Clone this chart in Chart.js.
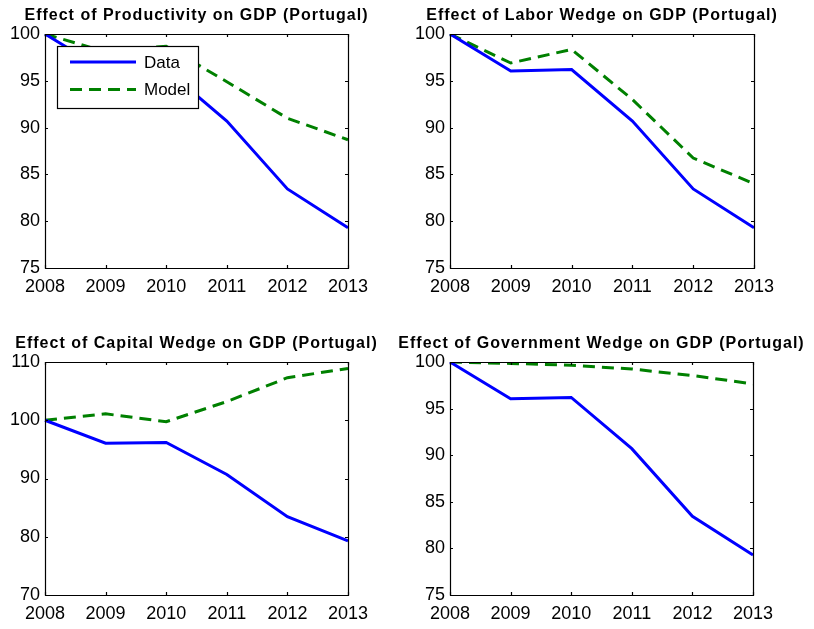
<!DOCTYPE html>
<html><head><meta charset="utf-8">
<script src="https://cdn.jsdelivr.net/npm/chart.js@4"></script>
<style>
html,body{margin:0;padding:0;background:#fff;}
#wrap{position:relative;width:814px;height:629px;background:#fff;}
canvas{position:absolute;left:0;top:0;}
</style></head><body><div id="wrap">
<canvas id="c0" width="814" height="629"></canvas>
<canvas id="c1" width="814" height="629"></canvas>
<canvas id="c2" width="814" height="629"></canvas>
<canvas id="c3" width="814" height="629"></canvas>
</div>
<script>
// ---- data ----
const years = ['2008','2009','2010','2011','2012','2013'];
const dataGDP = [100, 96.05, 96.2, 90.7, 83.45, 79.3];
const modelProductivity = [100, 98.1, 98.7, 94.9, 91.0, 88.7];
const modelLabor = [100, 96.9, 98.35, 93.0, 86.75, 84.0];
const modelCapital = [100, 101.1, 99.75, 103.2, 107.3, 108.9];
const modelGovernment = [100, 99.85, 99.65, 99.25, 98.55, 97.65];
const titles = [
  'Effect of Productivity on GDP (Portugal)',
  'Effect of Labor Wedge on GDP (Portugal)',
  'Effect of Capital Wedge on GDP (Portugal)',
  'Effect of Government Wedge on GDP (Portugal)'
];
const models = [modelProductivity, modelLabor, modelCapital, modelGovernment];
const yMin = [75, 75, 70, 75];
const yMax = [100, 100, 110, 100];
const yStep = [5, 5, 10, 5];
const seriesNames = ['Data', 'Model'];

// ---- layout ----
const areas = [[45,34,348,268],[450,34,754,268],[45,362,348,595],[450,362,753,595]];
const W = 814, H = 629, YW = 40, XH = 30;
const FONT = '"Liberation Sans", Arial, Helvetica, sans-serif';

const boxPlugin = {
  id: 'boxPlugin',
  afterDraw(chart, args, opts) {
    const ctx = chart.ctx;
    const {left, right, top, bottom} = chart.chartArea;
    const x = chart.scales.x, y = chart.scales.y;
    ctx.save();
    ctx.strokeStyle = '#000';
    ctx.lineWidth = 1.2;
    ctx.setLineDash([]);
    ctx.beginPath();
    ctx.rect(left + 0.5, top + 0.5, right - left, bottom - top);
    ctx.stroke();
    const tl = 3;
    ctx.beginPath();
    x.ticks.forEach((t, i) => {
      const px = Math.round(x.getPixelForTick(i)) + 0.5;
      ctx.moveTo(px, bottom); ctx.lineTo(px, bottom - tl);
      ctx.moveTo(px, top); ctx.lineTo(px, top + tl);
    });
    y.ticks.forEach((t, i) => {
      const py = Math.round(y.getPixelForTick(i)) + 0.5;
      ctx.moveTo(left, py); ctx.lineTo(left + tl, py);
      ctx.moveTo(right, py); ctx.lineTo(right - tl, py);
    });
    ctx.stroke();
    // title
    ctx.fillStyle = '#000';
    ctx.font = 'bold 16px ' + FONT;
    try { ctx.letterSpacing = '1px'; } catch (e) {}
    ctx.textAlign = 'center';
    ctx.textBaseline = 'alphabetic';
    ctx.fillText(opts.text, (left + right) / 2, top - 14);
    try { ctx.letterSpacing = '0px'; } catch (e) {}
    // legend
    if (opts.legend) {
      const lx = left + 12, ly = top + 12, lw = 141, lh = 62;
      ctx.fillStyle = '#fff';
      ctx.fillRect(lx, ly, lw, lh);
      ctx.strokeStyle = '#000';
      ctx.lineWidth = 1.2;
      ctx.strokeRect(lx + 0.5, ly + 0.5, lw, lh);
      chart.data.datasets.forEach((ds, i) => {
        const cy = ly + 16 + i * 27.5;
        ctx.strokeStyle = ds.borderColor;
        ctx.lineWidth = ds.borderWidth;
        ctx.setLineDash(ds.borderDash || []);
        ctx.beginPath();
        ctx.moveTo(lx + 13, cy); ctx.lineTo(lx + 79, cy);
        ctx.stroke();
        ctx.setLineDash([]);
        ctx.fillStyle = '#000';
        ctx.font = '17px ' + FONT;
        ctx.textAlign = 'left';
        ctx.textBaseline = 'middle';
        ctx.fillText(ds.label, lx + 87, cy + 1);
      });
    }
    ctx.restore();
  }
};

areas.forEach((a, k) => {
  const [l, t, r, b] = a;
  new Chart(document.getElementById('c' + k), {
    type: 'line',
    data: {
      labels: years,
      datasets: [
        { label: seriesNames[0], data: dataGDP, borderColor: '#0000ff', borderWidth: 3, pointRadius: 0, tension: 0, fill: false },
        { label: seriesNames[1], data: models[k], borderColor: '#008000', borderWidth: 3, borderDash: [12, 7], pointRadius: 0, tension: 0, fill: false }
      ]
    },
    options: {
      responsive: false,
      animation: false,
      events: [],
      layout: { padding: { left: l - YW, top: t, right: W - r, bottom: H - b - XH } },
      plugins: {
        legend: { display: false },
        title: { display: false },
        tooltip: { enabled: false },
        boxPlugin: { text: titles[k], legend: k === 0 }
      },
      scales: {
        x: {
          type: 'category',
          offset: false,
          grid: { display: false, drawTicks: false },
          border: { display: false },
          ticks: { color: '#000', font: { family: FONT, size: 18 }, padding: 8, autoSkip: false, maxRotation: 0 },
          afterFit(s) { s.height = XH; }
        },
        y: {
          min: yMin[k], max: yMax[k],
          grid: { display: false, drawTicks: false },
          border: { display: false },
          ticks: { color: '#000', font: { family: FONT, size: 18 }, padding: 5, stepSize: yStep[k] },
          afterFit(s) { s.width = YW; }
        }
      }
    },
    plugins: [boxPlugin]
  });
});
</script>
</body></html>
